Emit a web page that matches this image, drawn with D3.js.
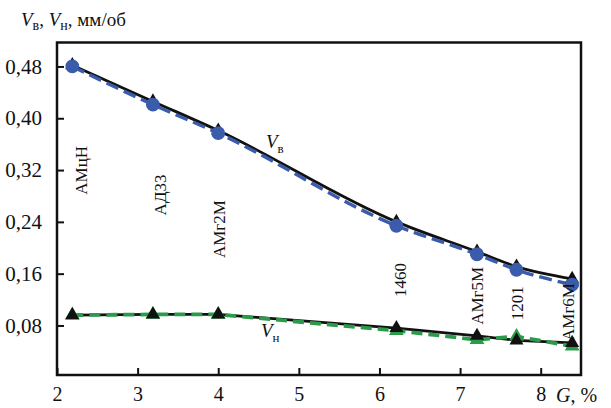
<!DOCTYPE html>
<html><head><meta charset="utf-8">
<script src="https://cdn.jsdelivr.net/npm/d3@7"></script>
<style>body{margin:0;background:#fff}svg{display:block}text{font-family:"Liberation Serif","Times New Roman",serif;fill:#111}</style>
</head><body><svg id="c" width="611" height="408"></svg>
<script>
// data
const G = [2.19, 3.19, 4.0, 6.21, 7.21, 7.7, 8.39];
const alloys = ["АМцН", "АД33", "АМг2М", "1460", "АМг5М", "1201", "АМг6М"];
const vbBlack = [0.482, 0.426, 0.381, 0.240, 0.194, 0.171, 0.152];
const vbBlue  = [0.480, 0.421, 0.377, 0.234, 0.190, 0.166, 0.143];
const vnBlack = [0.096, 0.097, 0.097, 0.076, 0.064, 0.057, 0.053];
const vnGreen = [0.096, 0.097, 0.097, 0.072, 0.058, 0.063, 0.048];
const labelX = [2.31, 3.28, 4.02, 6.26, 7.21, 7.71, 8.34];
const labelY = [0.282, 0.25, 0.184, 0.124, 0.081, 0.088, 0.056];
const xTicks = [2, 3, 4, 5, 6, 7, 8];
const yTicks = [0.08, 0.16, 0.24, 0.32, 0.40, 0.48];

const svg = d3.select("#c");
const x = d3.scaleLinear().domain([2, 8.5]).range([57, 581]);
const y = d3.scaleLinear().domain([0.0035, 0.517]).range([375, 42.5]);
const fmt = v => d3.format(".2f")(v).replace(".", ",");

// axes with inward ticks
svg.append("g").attr("transform", `translate(0,${y.range()[0]})`)
  .call(d3.axisBottom(x).tickValues(xTicks).tickSize(-7).tickPadding(12).tickFormat(d3.format("d")))
  .call(g => { g.select(".domain").remove(); g.selectAll("line").attr("stroke","#111").attr("stroke-width",2);
    g.selectAll("text").attr("font-size",20).attr("font-family",'"Liberation Serif",serif').attr("fill","#111"); });
svg.append("g").attr("transform", `translate(${x.range()[0]},0)`)
  .call(d3.axisLeft(y).tickValues(yTicks).tickSize(-7).tickPadding(15).tickFormat(fmt))
  .call(g => { g.select(".domain").remove(); g.selectAll("line").attr("stroke","#111").attr("stroke-width",2);
    g.selectAll("text").attr("font-size",21).attr("font-family",'"Liberation Serif",serif').attr("fill","#111"); });
// frame
svg.append("rect").attr("x", x.range()[0]).attr("y", y.range()[1])
  .attr("width", x.range()[1]-x.range()[0]).attr("height", y.range()[0]-y.range()[1])
  .attr("fill","none").attr("stroke","#111").attr("stroke-width",2.5);

const curveLine = d3.line().x((d,i)=>x(G[i])).y(d=>y(d)).curve(d3.curveMonotoneX);
const straight = d3.line().x((d,i)=>x(G[i])).y(d=>y(d));
const tri = d3.symbol().type(d3.symbolTriangle).size(85);
const circ = d3.symbol().type(d3.symbolCircle).size(150);
const gmark = d3.symbol().type(d3.symbolTriangle).size(95);

function path(data, gen, color, w, dash){
  svg.append("path").datum(data).attr("d", gen).attr("fill","none")
    .attr("stroke", color).attr("stroke-width", w).attr("stroke-dasharray", dash||null);
}
function marks(data, sym, color){
  svg.append("g").selectAll("path").data(data).join("path")
    .attr("d", sym).attr("fill", color)
    .attr("transform",(d,i)=>`translate(${x(G[i])},${y(d)})`);
}
// upper
path(vbBlack, curveLine, "#111", 2.8);
path(vbBlue, curveLine, "#3b5bab", 3.4, "13,6");
marks(vbBlack, tri, "#111");
marks(vbBlue, circ, "#3b5bab");
// lower
path(vnBlack, straight, "#111", 2.8);
path(vnGreen, straight, "#2b9a4a", 3.8, "11,6");
marks(vnGreen, gmark, "#2b9a4a");
marks(vnBlack, tri, "#111");

// alloy labels
svg.append("g").selectAll("text").data(alloys).join("text")
  .attr("transform",(d,i)=>`translate(${x(labelX[i])},${y(labelY[i])}) rotate(-90)`)
  .attr("dominant-baseline","central").attr("font-size",17).text(d=>d);

// series labels
function vlabel(px, py, sub){
  const t = svg.append("text").attr("x", px).attr("y", py).attr("font-size", 19);
  t.append("tspan").attr("font-style","italic").text("V");
  t.append("tspan").attr("font-size", 13).attr("dy", 5).text(sub);
}
vlabel(266, 148, "в");
vlabel(261, 337, "н");

// title
const tt = svg.append("text").attr("x", 21).attr("y", 26).attr("font-size", 19);
tt.append("tspan").attr("font-style","italic").text("V");
tt.append("tspan").attr("font-size",14).attr("dy",4).text("в");
tt.append("tspan").attr("dy",-4).text(", ");
tt.append("tspan").attr("font-style","italic").text("V");
tt.append("tspan").attr("font-size",14).attr("dy",4).text("н");
tt.append("tspan").attr("dy",-4).text(", мм/об");

// x title
const xt = svg.append("text").attr("x", 556).attr("y", 402).attr("font-size", 20);
xt.append("tspan").attr("font-style","italic").text("G");
xt.append("tspan").text(", %");
</script></body></html>
